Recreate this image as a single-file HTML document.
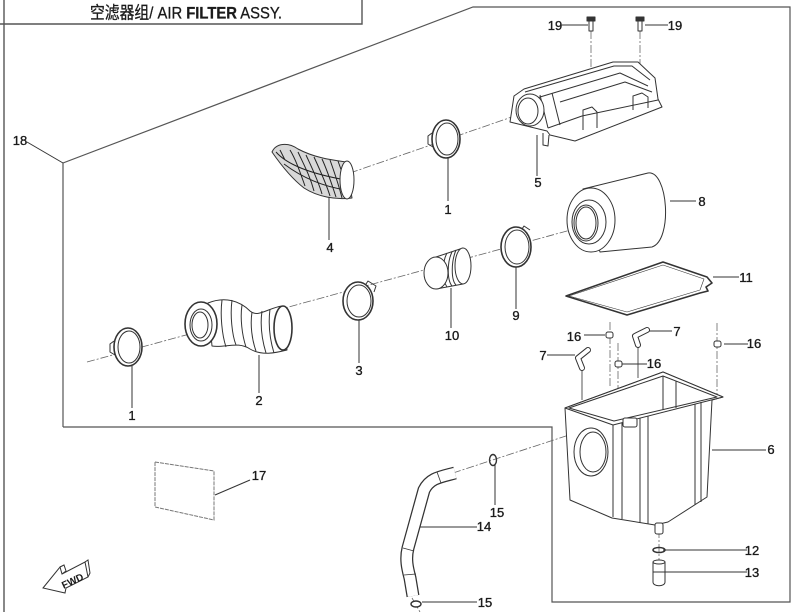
<!DOCTYPE html>
<html><head><meta charset="utf-8"><style>
html,body{margin:0;padding:0;background:#fff;}
svg{display:block;}
text{font-family:"Liberation Sans Narrow","Liberation Sans","Noto Sans CJK SC",sans-serif;fill:#1a1a1a;}
</style></head><body>
<svg width="800" height="612" viewBox="0 0 800 612" xmlns="http://www.w3.org/2000/svg">
<rect width="800" height="612" fill="#fff"/>
<!-- outer frame / title -->
<line x1="4" y1="0" x2="4" y2="612" stroke="#555" stroke-width="1.4"/>
<polyline points="0,24 362,24 362,0" fill="none" stroke="#555" stroke-width="1.4"/>
<text x="186" y="18.5" font-size="17" text-anchor="middle" textLength="192" lengthAdjust="spacingAndGlyphs" stroke="#1a1a1a" stroke-width="0.3" style="font-family:'Liberation Sans Narrow','Liberation Sans','Noto Sans CJK SC',sans-serif">空滤器组/ AIR <tspan font-weight="bold">FILTER</tspan> ASSY.</text>

<!-- polygon 18 -->
<polyline points="63,427 63,163 473,7 790,7 790,602 552,602 552,427 63,427" fill="none" stroke="#555" stroke-width="1.2"/>

<!-- axes dash-dot -->
<g stroke="#666" stroke-width="0.8" fill="none" stroke-dasharray="8 2 2 2">
<line x1="350" y1="173" x2="532" y2="110"/>
<line x1="87" y1="362" x2="578" y2="228"/>
<line x1="453" y1="473" x2="578" y2="432"/>
<line x1="412" y1="598" x2="420" y2="612"/>
<line x1="591" y1="31" x2="591" y2="112"/>
<line x1="640" y1="31" x2="640" y2="97"/>
<line x1="610" y1="322" x2="610" y2="388"/>
<line x1="618" y1="343" x2="618" y2="420"/>
<line x1="717" y1="323" x2="717" y2="397"/>
<line x1="659" y1="530" x2="659" y2="562"/>
</g>
<g stroke="#444" stroke-width="0.9" fill="none">
<line x1="582" y1="365" x2="582" y2="400"/>
<line x1="638" y1="345" x2="638" y2="378"/>
</g>

<!-- leader lines -->
<g stroke="#333" stroke-width="1" fill="none">
<line x1="27" y1="142" x2="63" y2="163"/>
<line x1="562" y1="25" x2="588" y2="25"/>
<line x1="645" y1="25" x2="668" y2="25"/>
<line x1="537" y1="135" x2="537" y2="176"/>
<line x1="448" y1="158" x2="448" y2="201"/>
<line x1="329" y1="197" x2="329" y2="240"/>
<line x1="670" y1="201" x2="696" y2="201"/>
<line x1="713" y1="277" x2="739" y2="277"/>
<line x1="516" y1="266" x2="516" y2="309"/>
<line x1="451" y1="288" x2="451" y2="328"/>
<line x1="359" y1="320" x2="359" y2="363"/>
<line x1="259" y1="355" x2="259" y2="393"/>
<line x1="132" y1="366" x2="132" y2="408"/>
<line x1="584" y1="335" x2="605" y2="335"/>
<line x1="647" y1="331" x2="672" y2="331"/>
<line x1="724" y1="344" x2="748" y2="344"/>
<line x1="547" y1="355" x2="575" y2="355"/>
<line x1="622" y1="364" x2="647" y2="364"/>
<line x1="712" y1="450" x2="766" y2="450"/>
<line x1="215" y1="495" x2="250" y2="480"/>
<line x1="495" y1="465" x2="495" y2="505"/>
<line x1="420" y1="527" x2="477" y2="527"/>
<line x1="663" y1="550" x2="747" y2="550"/>
<line x1="664" y1="572" x2="747" y2="572"/>
<line x1="422" y1="602" x2="477" y2="602"/>
</g>

<g stroke="#333" stroke-width="1" fill="#fff" stroke-linejoin="round">
<!-- bolts 19 -->
<rect x="587" y="17" width="8" height="4" fill="#333"/>
<rect x="589" y="21" width="4" height="10"/>
<rect x="636" y="17" width="8" height="4" fill="#333"/>
<rect x="638" y="21" width="4" height="10"/>

<!-- part 5 lid -->
<path d="M510,122 L514,96 L524,89 L613,62 L638,62 L655,78 L658,99 L662,107 L575,141 L550,135 L547,131 Z"/>
<path d="M543,133 L543,145 L548,146 L549,135" />
<path d="M525,92 L614,66 L632,66 L650,80 M530,100 L620,73 L648,86 M560,102 L625,82 L652,92 M548,128 L582,116 L658,100 M540,95 L548,128 M552,93 L560,125" fill="none"/>
<path d="M583,130 L583,110 L592,107 L597,112 L597,128" fill="none"/>
<path d="M633,110 L633,96 L642,93 L648,97 L648,108" fill="none"/>
<ellipse cx="530" cy="110" rx="14" ry="16"/>
<ellipse cx="528" cy="111" rx="10" ry="13"/>

<!-- part 4 boot -->
<path d="M272,152 C276,143 288,142 298,149 C315,158 332,160 346,162 L352,198 C336,200 318,197 304,188 C291,178 281,165 272,152 Z" fill="#d8d8d8"/>
<path d="M290,150 C296,160 300,172 305,186 M298,152 C304,165 310,176 314,191 M306,155 C312,168 318,180 322,194 M314,157 C320,170 326,183 330,196 M322,159 C328,172 332,185 336,197 M330,160 C335,174 339,186 342,198 M338,161 C343,174 346,186 348,198 M280,150 L285,160 M276,152 C283,160 300,172 346,180 M284,164 C300,176 320,186 346,190" fill="none" stroke="#222"/>
<ellipse cx="347" cy="180" rx="7" ry="19"/>

<!-- part 1 upper -->
<path d="M432,133 L428,136 L428,144 L433,147" fill="none"/>
<ellipse cx="446" cy="139" rx="14" ry="19" stroke-width="1.6"/>
<ellipse cx="447" cy="139" rx="11" ry="16" fill="none"/>

<!-- part 8 filter -->
<path d="M583,189 L648,173 C668,170 673,240 652,247 L600,252 Z"/>
<ellipse cx="591" cy="220" rx="24" ry="32"/>
<ellipse cx="589" cy="222" rx="17" ry="22"/>
<ellipse cx="586" cy="223" rx="12" ry="18"/>
<ellipse cx="586" cy="223" rx="10" ry="16" fill="none"/>

<!-- part 11 gasket -->
<path d="M566,296 L663,262 L707,277 L712,283 L706,287 L708,291 L700,293 L627,315 Z" fill="none" stroke-width="1.6"/>
<path d="M569,296 L663,265 L704,279 L700,290 L627,312 Z" fill="none" stroke-width="0.6"/>

<!-- part 9 clamp -->
<path d="M520,232 L524,226 L530,230" fill="none"/>
<ellipse cx="516" cy="247" rx="15" ry="20" stroke-width="1.6"/>
<ellipse cx="517" cy="247" rx="12" ry="17" fill="none"/>

<!-- part 10 coupler -->
<path d="M436,257 L463,248 L463,284 L436,289 Z"/>
<ellipse cx="463" cy="266" rx="8" ry="18"/>
<path d="M447,253 C442,262 442,280 447,287 M452,252 C447,262 447,280 452,286 M456,250 C451,262 451,280 456,285" fill="none"/>
<ellipse cx="436" cy="273" rx="12" ry="16"/>

<!-- part 3 clamp -->
<path d="M364,287 L368,281 L376,286 L374,292" fill="none"/>
<ellipse cx="358" cy="301" rx="15" ry="19" stroke-width="1.6"/>
<ellipse cx="359" cy="301" rx="12" ry="16" fill="none"/>

<!-- part 2 hose -->
<path d="M208,303 C225,296 240,301 250,311 C258,318 268,308 282,306 L287,350 C275,353 262,356 250,349 C238,341 225,348 212,346 Z"/>
<path d="M222,300 C220,315 222,335 226,347 M232,300 C230,315 232,335 236,345 M242,305 C240,318 242,335 246,347 M252,312 C250,325 252,340 256,351 M262,311 C260,325 262,340 266,353 M270,309 C268,325 270,340 274,353" fill="none"/>
<ellipse cx="201" cy="324" rx="16" ry="22" stroke-width="1.6"/>
<ellipse cx="201" cy="325" rx="11" ry="16" fill="none"/>
<ellipse cx="200" cy="325" rx="8" ry="13" fill="none"/>
<ellipse cx="283" cy="328" rx="9" ry="22" stroke-width="1.6"/>

<!-- part 1 lower -->
<path d="M114,341 L110,344 L110,352 L115,355" fill="none"/>
<ellipse cx="128" cy="347" rx="14" ry="19" stroke-width="1.6"/>
<ellipse cx="129" cy="347" rx="11" ry="16" fill="none"/>

<!-- part 6 box -->
<path d="M565,408 L570,500 L612,518 L655,525 L668,522 L707,497 L712,400 L723,397 L663,372 Z"/>
<path d="M565,408 L663,372 L723,397 L613,425 Z"/>
<path d="M569,408 L663,376 L717,397 L614,421 Z" fill="none"/>
<path d="M613,425 L613,517 M622,423 L622,519 M640,418 L640,523 M648,416 L648,524 M695,404 L695,505 M701,402 L701,502 M663,376 L663,410 M676,381 L676,408" fill="none"/>
<ellipse cx="591" cy="452" rx="17" ry="24"/>
<ellipse cx="593" cy="452" rx="13" ry="20" fill="none"/>
<rect x="623" y="418" width="14" height="9" rx="2"/>
<rect x="655" y="523" width="8" height="11" rx="2"/>

<!-- 7 & 16 -->
<path d="M582,368 L578,358 L588,350" fill="none" stroke="#333" stroke-width="6" stroke-linecap="round"/>
<path d="M582,368 L578,358 L588,350" fill="none" stroke="#fff" stroke-width="4" stroke-linecap="round"/>
<path d="M638,345 L635,336 L647,330" fill="none" stroke="#333" stroke-width="6" stroke-linecap="round"/>
<path d="M638,345 L635,336 L647,330" fill="none" stroke="#fff" stroke-width="4" stroke-linecap="round"/>
<rect x="606" y="332" width="7" height="6" rx="2"/>
<rect x="615" y="361" width="7" height="6" rx="2"/>
<rect x="714" y="341" width="7" height="6" rx="2"/>

<!-- 12, 13 -->
<ellipse cx="659" cy="550" rx="6" ry="2.5" stroke-width="1.5" fill="none"/>
<path d="M653,562 L653,582 C653,587 665,587 665,582 L665,562 Z"/>
<ellipse cx="659" cy="562" rx="6" ry="2"/>
<line x1="653" y1="572" x2="665" y2="572"/>

<!-- 15 rings -->
<ellipse cx="493" cy="460" rx="3.5" ry="5.5" stroke-width="1.4" fill="none"/>
<ellipse cx="416" cy="604" rx="5" ry="3" stroke-width="1.4"/>
</g>

<!-- hose 14 -->
<path d="M455,473 C440,477 430,478 424,490 L408,548 C405,560 408,570 410,578 L413,596" fill="none" stroke="#333" stroke-width="13" stroke-linecap="butt"/>
<path d="M455,473 C440,477 430,478 424,490 L408,548 C405,560 408,570 410,578 L413,596" fill="none" stroke="#fff" stroke-width="10.5" stroke-linecap="butt"/>
<g stroke="#333" stroke-width="0.8" fill="none"><line x1="437" y1="472" x2="441" y2="483"/><line x1="403" y1="548" x2="414" y2="551"/><line x1="404" y1="575" x2="416" y2="574"/></g>

<!-- part 17 -->
<path d="M155,462 L214,471 L214,520 L155,507 Z" fill="none" stroke="#777" stroke-width="1" stroke-dasharray="4 1"/>

<!-- FWD arrow -->
<g stroke="#333" stroke-width="1" fill="#fff">
<path d="M43,588 L60,567 L62,574 L85,562 L88,577 L66,588 L65,593 Z"/>
<path d="M60,567 L64,565 L66,571 L62,574 M85,562 L88,560 L90,573 L88,577" fill="none"/>
</g>
<text x="74" y="584" font-size="10" text-anchor="middle" transform="rotate(-25 74 584)" style="font-weight:bold">FWD</text>

<!-- labels -->
<g font-size="13" text-anchor="middle" stroke="#1a1a1a" stroke-width="0.35">
<text x="20" y="145">18</text>
<text x="555" y="30">19</text>
<text x="675" y="30">19</text>
<text x="538" y="187">5</text>
<text x="448" y="214">1</text>
<text x="330" y="252">4</text>
<text x="702" y="206">8</text>
<text x="746" y="282">11</text>
<text x="516" y="320">9</text>
<text x="452" y="340">10</text>
<text x="359" y="375">3</text>
<text x="259" y="405">2</text>
<text x="132" y="420">1</text>
<text x="574" y="341">16</text>
<text x="677" y="336">7</text>
<text x="754" y="348">16</text>
<text x="543" y="360">7</text>
<text x="654" y="368">16</text>
<text x="771" y="454">6</text>
<text x="259" y="480">17</text>
<text x="497" y="517">15</text>
<text x="484" y="531">14</text>
<text x="752" y="555">12</text>
<text x="752" y="577">13</text>
<text x="485" y="607">15</text>
</g>
</svg>
</body></html>
